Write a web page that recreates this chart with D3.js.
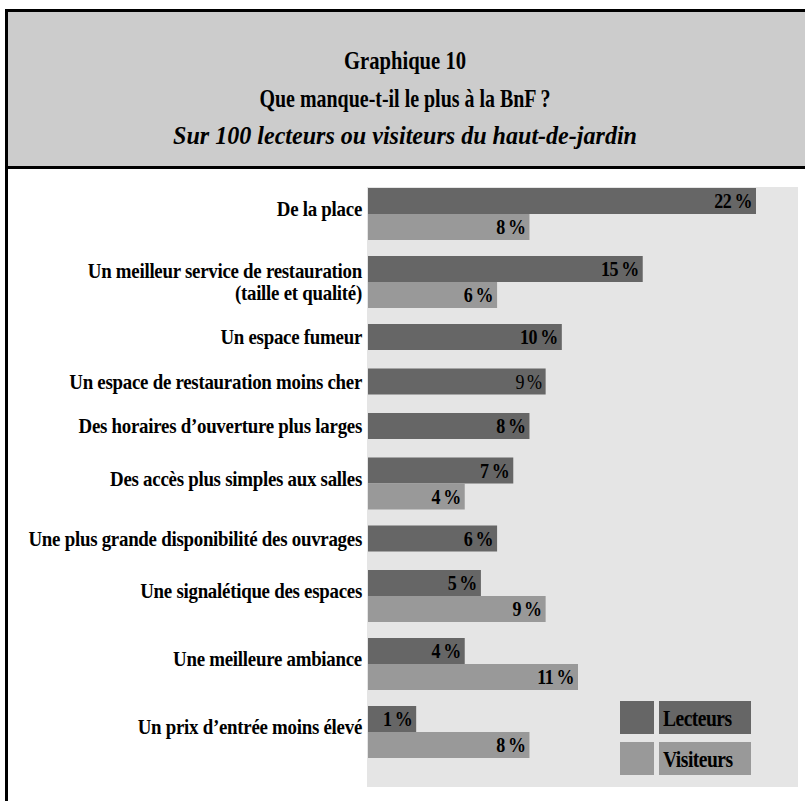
<!doctype html>
<html lang="fr">
  <head>
    <meta charset="UTF-8" />
    <title>Graphique 10</title>
    <script src="https://d3js.org/d3.v7.min.js"></script>
    <style>
      body,
      html {
        margin: 0;
        padding: 0;
        background: #fff;
        overflow: hidden;
      }
      svg {
        display: block;
        font-family: "Liberation Serif", "Times New Roman", serif;
      }
    </style>
  </head>
  <body>
    <svg id="chart" width="805" height="801"></svg>
    <script>
      // Data
      const categories = [
        "De la place",
        "Un meilleur service de restauration\n(taille et qualité)",
        "Un espace fumeur",
        "Un espace de restauration moins cher",
        "Des horaires d\u2019ouverture plus larges",
        "Des accès plus simples aux salles",
        "Une plus grande disponibilité des ouvrages",
        "Une signalétique des espaces",
        "Une meilleure ambiance",
        "Un prix d\u2019entrée moins élevé"
      ];
      const lecteurs = [22, 15, 10, 9, 8, 7, 6, 5, 4, 1];
      const visiteurs = [8, 6, null, null, null, 4, null, 9, 11, 8];
      const seriesNames = ["Lecteurs", "Visiteurs"];
      const titleLines = [
        "Graphique 10",
        "Que manque-t-il le plus à la BnF\u2009?",
        "Sur 100 lecteurs ou visiteurs du haut-de-jardin"
      ];

      const colors = { Lecteurs: "#666666", Visiteurs: "#999999" };
      const svg = d3.select("#chart");

      // Title box
      svg
        .append("rect")
        .attr("x", 6.5)
        .attr("y", 10.5)
        .attr("width", 820)
        .attr("height", 157)
        .attr("fill", "#cccccc")
        .attr("stroke", "#000")
        .attr("stroke-width", 3);
      // left border running down
      svg
        .append("line")
        .attr("x1", 6.5)
        .attr("x2", 6.5)
        .attr("y1", 10)
        .attr("y2", 801)
        .attr("stroke", "#000")
        .attr("stroke-width", 3);

      const titleWidths = [122, 291, 464];
      svg
        .selectAll("text.title")
        .data(titleLines)
        .join("text")
        .attr("class", "title")
        .attr("x", 405)
        .attr("y", (d, i) => 69 + i * 37.5)
        .attr("text-anchor", "middle")
        .attr("font-size", 25)
        .attr("font-weight", "bold")
        .attr("font-style", (d, i) => (i === 2 ? "italic" : "normal"))
        .attr("textLength", (d, i) => titleWidths[i])
        .attr("lengthAdjust", "spacingAndGlyphs")
        .attr("fill", "#000")
        .text((d) => d);

      // Plot area
      const plotLeft = 367;
      const plotTop = 187;
      const plotRight = 798;
      const plotBottom = 787;
      svg
        .append("rect")
        .attr("x", plotLeft)
        .attr("y", plotTop)
        .attr("width", plotRight - plotLeft)
        .attr("height", plotBottom - plotTop)
        .attr("fill", "#e5e5e5");

      const barH = 26;
      const barX0 = plotLeft + 1;
      const x = d3.scaleLinear().domain([0, 22]).range([32, 388]);

      // group layout from number of bars per category
      const rows = categories.map((c, i) => ({
        name: c,
        values: [
          { series: "Lecteurs", v: lecteurs[i] },
          { series: "Visiteurs", v: visiteurs[i] }
        ].filter((d) => d.v != null)
      }));
      const groupH = rows.map((r) => (r.values.length === 2 ? 68 : 44.5));
      let acc = plotTop + 1;
      rows.forEach((r, i) => {
        r.y = acc;
        acc += groupH[i];
      });

      const plainLabels = ["Un espace de restauration moins cher"];

      const g = svg
        .selectAll("g.row")
        .data(rows)
        .join("g")
        .attr("class", "row")
        .attr("transform", (d) => `translate(0,${d.y})`);

      g.selectAll("rect")
        .data((d) => d.values)
        .join("rect")
        .attr("x", barX0)
        .attr("y", (d, i) => i * barH)
        .attr("width", (d) => x(d.v))
        .attr("height", barH)
        .attr("fill", (d) => colors[d.series]);

      g.each(function (r) {
        d3.select(this)
          .selectAll("g.val")
          .data(r.values)
          .join("g")
          .attr("class", "val")
          .attr(
            "transform",
            (d, i) => `translate(${barX0 + x(d.v) - 4},${i * barH + barH / 2}) scale(0.9,1)`
          )
          .append("text")
          .attr("dy", "0.36em")
          .attr("text-anchor", "end")
          .attr("font-size", 20)
          .attr("font-weight", plainLabels.includes(r.name) ? "normal" : "bold")
          .attr("letter-spacing", -0.5)
          .text((d) => `${d.v}\u2009%`);
      });

      // category labels (condensed serif look)
      g.each(function (r) {
        const lines = r.name.split("\n");
        const h = r.values.length * barH;
        const cy = r.values.length === 2 ? h / 2 - 5 : h / 2;
        lines.forEach((l, k) => {
          const ly = cy + (k - (lines.length - 1) / 2) * 22 + (lines.length > 1 ? 5 : 0);
          d3.select(this)
            .append("g")
            .attr("transform", `translate(362,${ly}) scale(0.9,1)`)
            .append("text")
            .attr("dy", "0.35em")
            .attr("text-anchor", "end")
            .attr("font-size", 21)
            .attr("font-weight", "bold")
            .attr("letter-spacing", -0.3)
            .text(l);
        });
      });

      // legend
      const legend = svg
        .selectAll("g.legend")
        .data(seriesNames)
        .join("g")
        .attr("class", "legend")
        .attr("transform", (d, i) => `translate(620,${701 + i * 41})`);
      legend
        .append("rect")
        .attr("width", 34)
        .attr("height", 33)
        .attr("fill", (d) => colors[d]);
      legend
        .append("rect")
        .attr("x", 39)
        .attr("width", 92)
        .attr("height", 33)
        .attr("fill", (d) => colors[d]);
      legend
        .append("g")
        .attr("transform", "translate(43,16.5) scale(0.85,1)")
        .append("text")
        .attr("dy", "0.35em")
        .attr("font-size", 23)
        .attr("font-weight", "bold")
        .attr("letter-spacing", -0.6)
        .text((d) => d);
    </script>
  </body>
</html>
